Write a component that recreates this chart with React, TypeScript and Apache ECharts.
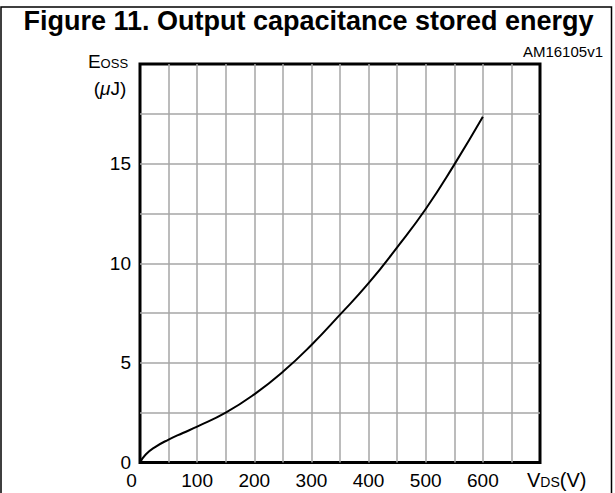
import React, { useEffect, useRef } from "react";
import * as echarts from "echarts";

const vdsValues = [0, 10, 25, 50, 75, 100, 150, 200, 250, 300, 350, 400, 450, 500, 550, 600];
const eossValues = [0, 0.4, 0.75, 1.15, 1.48, 1.8, 2.5, 3.42, 4.55, 5.9, 7.42, 9.0, 10.8, 12.72, 14.95, 17.35];
const xTickLabels = ["0", "100", "200", "300", "400", "500", "600"];
const yTickLabels = ["0", "5", "10", "15"];

const FONT = "'Liberation Sans', Arial, Helvetica, sans-serif";

export default function App() {
  const ref = useRef<HTMLDivElement>(null);
  useEffect(() => {
    if (!ref.current) return;
    const chart = echarts.init(ref.current, null, { renderer: "svg" });
    const option: any = {
      animation: false,
      backgroundColor: "#fff",
      textStyle: { fontFamily: FONT },
      grid: {
        left: 140,
        right: 75,
        top: 64,
        bottom: 30.5,
        show: true,
        borderColor: "#000",
        borderWidth: 3,
        backgroundColor: "transparent",
      },
      xAxis: {
        type: "value",
        min: 0,
        max: 700,
        interval: 50,
        axisLine: { show: false },
        axisTick: { show: false },
        splitLine: {
          show: true,
          showMinLine: false,
          showMaxLine: false,
          lineStyle: { color: "#a6a6a6", width: 1.5 },
        },
        axisLabel: {
          margin: 8,
          fontSize: 19,
          color: "#000",
          fontFamily: FONT,
          formatter: (v: number) => {
            const s = String(v);
            if (!xTickLabels.includes(s)) return "";
            return v === 0 ? "{z|0}" : s;
          },
          rich: { z: { fontSize: 19, fontFamily: FONT, color: "#000", padding: [0, 17, 0, 0] } },
        },
      },
      yAxis: {
        type: "value",
        min: 0,
        max: 20,
        interval: 2.5,
        axisLine: { show: false },
        axisTick: { show: false },
        splitLine: {
          show: true,
          showMinLine: false,
          showMaxLine: false,
          lineStyle: { color: "#a6a6a6", width: 1.5 },
        },
        axisLabel: {
          margin: 9,
          fontSize: 19,
          color: "#000",
          fontFamily: FONT,
          formatter: (v: number) => (yTickLabels.includes(String(v)) ? String(v) : ""),
        },
      },
      series: [
        {
          type: "line",
          data: vdsValues.map((x, i) => [x, eossValues[i]]),
          smooth: 0.5,
          showSymbol: false,
          lineStyle: { color: "#000", width: 2 },
          z: 5,
        },
      ],
      graphic: [
        {
          type: "rect",
          shape: { x: 1, y: 7, width: 610.5, height: 495 },
          style: { fill: "none", stroke: "#000", lineWidth: 1.5 },
          silent: true,
        },
        {
          type: "text",
          x: 308.5,
          y: 21,
          style: {
            text: "Figure 11. Output capacitance stored energy",
            font: `bold 27px ${FONT}`,
            fill: "#000",
            textAlign: "center",
            textVerticalAlign: "middle",
          },
        },
        {
          type: "text",
          x: 603,
          y: 51,
          style: {
            text: "AM16105v1",
            font: `15px ${FONT}`,
            fill: "#000",
            textAlign: "right",
            textVerticalAlign: "middle",
          },
        },
        {
          type: "text",
          x: 108,
          y: 60,
          style: {
            text: "{b|E}{s|OSS}",
            textAlign: "center",
            textVerticalAlign: "middle",
            rich: {
              b: { fontSize: 19, fontFamily: FONT, fill: "#000", lineHeight: 22, verticalAlign: "bottom" },
              s: { fontSize: 13, fontFamily: FONT, fill: "#000", lineHeight: 22, verticalAlign: "bottom", padding: [0, 0, 1, 0] },
            },
          },
        },
        {
          type: "text",
          x: 110,
          y: 88,
          style: {
            text: "{n|(}{i|\u03bc}{n|J)}",
            textAlign: "center",
            textVerticalAlign: "middle",
            rich: {
              n: { fontSize: 19, fontFamily: FONT, fill: "#000", lineHeight: 22 },
              i: { fontSize: 19, fontFamily: FONT, fontStyle: "italic", fill: "#000", lineHeight: 22 },
            },
          },
        },
        {
          type: "text",
          x: 527,
          y: 479,
          style: {
            text: "{b|V}{s|DS}{b|(V)}",
            textAlign: "left",
            textVerticalAlign: "middle",
            rich: {
              b: { fontSize: 20, fontFamily: FONT, fill: "#000", lineHeight: 22, verticalAlign: "bottom" },
              s: { fontSize: 14, fontFamily: FONT, fill: "#000", lineHeight: 22, verticalAlign: "bottom", padding: [0, 0, 1, 0] },
            },
          },
        },
      ],
    };
    chart.setOption(option);
    return () => chart.dispose();
  }, []);
  return (
    <div
      ref={ref}
      style={{ position: "fixed", left: 0, top: 0, width: 615, height: 493, background: "#fff" }}
    />
  );
}
